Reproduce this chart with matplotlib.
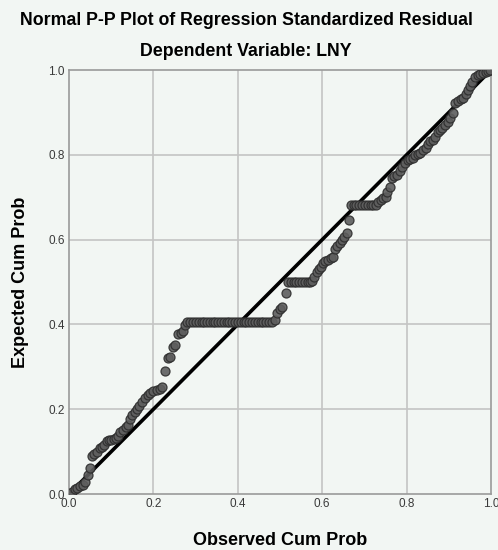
import numpy as np
import matplotlib.pyplot as plt

# Observed / expected cumulative probabilities
observed = [
    0.007, 0.014, 0.020, 0.026, 0.033, 0.038, 0.045, 0.050, 0.055, 0.060,
    0.066, 0.073, 0.078, 0.083, 0.090, 0.095, 0.100, 0.106, 0.112, 0.117,
    0.121, 0.128, 0.134, 0.140, 0.145, 0.149, 0.156, 0.162, 0.166, 0.173,
    0.180, 0.187, 0.193, 0.200, 0.208, 0.215, 0.220, 0.227, 0.235, 0.240,
    0.246, 0.252, 0.258, 0.265, 0.270, 0.275,
    # flat run near 0.406
    0.280, 0.287, 0.294, 0.300, 0.307, 0.314, 0.320, 0.327, 0.334, 0.340,
    0.347, 0.354, 0.360, 0.367, 0.374, 0.380, 0.387, 0.394, 0.400, 0.407,
    0.414, 0.420, 0.427, 0.434, 0.440, 0.447, 0.454, 0.460, 0.467, 0.474,
    0.480,
    0.487, 0.493, 0.500, 0.505, 0.514,
    # flat run near 0.5
    0.519, 0.526, 0.532, 0.539, 0.546, 0.552, 0.559, 0.566, 0.572, 0.576,
    0.580, 0.587, 0.592, 0.597, 0.602, 0.607, 0.613, 0.620, 0.625, 0.630,
    0.636, 0.641, 0.647, 0.652, 0.658, 0.664,
    # flat run near 0.682
    0.668, 0.675, 0.681, 0.688, 0.695, 0.701, 0.708, 0.715, 0.721, 0.728,
    0.733, 0.739, 0.745, 0.750, 0.754, 0.761, 0.766, 0.771, 0.778, 0.784,
    0.789, 0.796, 0.803, 0.809, 0.815, 0.820, 0.826, 0.832, 0.839, 0.845,
    0.850, 0.856, 0.862, 0.868, 0.874, 0.879, 0.884, 0.891, 0.897, 0.903,
    0.909, 0.915, 0.921, 0.928, 0.934, 0.940, 0.945, 0.950, 0.955, 0.962,
    0.969, 0.975, 0.981, 0.987, 0.993, 0.998,
]
expected = [
    0.004, 0.012, 0.015, 0.018, 0.022, 0.028, 0.045, 0.062, 0.090, 0.094,
    0.099, 0.108, 0.112, 0.116, 0.125, 0.127, 0.128, 0.130, 0.132, 0.136,
    0.146, 0.152, 0.157, 0.163, 0.176, 0.186, 0.193, 0.200, 0.207, 0.217,
    0.226, 0.233, 0.238, 0.243, 0.245, 0.248, 0.252, 0.290, 0.320, 0.323,
    0.347, 0.352, 0.377, 0.380, 0.385, 0.399,
    0.406, 0.406, 0.406, 0.406, 0.406, 0.406, 0.406, 0.406, 0.406, 0.406,
    0.406, 0.406, 0.406, 0.406, 0.406, 0.406, 0.406, 0.406, 0.406, 0.406,
    0.406, 0.406, 0.406, 0.406, 0.406, 0.406, 0.406, 0.406, 0.406, 0.406,
    0.406,
    0.410, 0.427, 0.437, 0.440, 0.474,
    0.500, 0.500, 0.500, 0.500, 0.500, 0.500, 0.500, 0.500, 0.500, 0.503,
    0.512, 0.524, 0.530, 0.535, 0.545, 0.550, 0.553, 0.557, 0.560, 0.578,
    0.585, 0.592, 0.599, 0.606, 0.616, 0.646,
    0.682, 0.682, 0.682, 0.682, 0.682, 0.682, 0.682, 0.682, 0.682, 0.682,
    0.688, 0.694, 0.697, 0.700, 0.712, 0.724, 0.745, 0.750, 0.753, 0.762,
    0.771, 0.780, 0.787, 0.790, 0.793, 0.800, 0.802, 0.804, 0.811, 0.816,
    0.826, 0.832, 0.836, 0.842, 0.854, 0.858, 0.863, 0.870, 0.877, 0.887,
    0.899, 0.922, 0.928, 0.931, 0.934, 0.944, 0.953, 0.962, 0.972, 0.983,
    0.988, 0.991, 0.994, 0.996, 0.998, 1.000,
]
ticks = [0.0, 0.2, 0.4, 0.6, 0.8, 1.0]
tick_labels = ['0.0', '0.2', '0.4', '0.6', '0.8', '1.0']

plt.rcParams['font.family'] = ['Liberation Sans', 'DejaVu Sans']

bg = '#f2f6f3'
fig = plt.figure(figsize=(4.98, 5.5), dpi=100, facecolor=bg)
ax = fig.add_axes([0.1386, 0.1018, 0.8474, 0.7709], facecolor=bg)

# grid
for t in ticks[1:-1]:
    ax.axvline(t, color='#c4c4c4', lw=1.2, zorder=1)
    ax.axhline(t, color='#c4c4c4', lw=1.2, zorder=1)

# reference line
ax.plot([0, 1], [0, 1], color='black', lw=2.6, zorder=2, solid_capstyle='butt')

# points
ax.scatter(observed, expected, s=42, facecolor='#5e5e5e', edgecolor='#2e2e2e',
           linewidths=0.9, alpha=0.9, zorder=3)

ax.set_xlim(0, 1)
ax.set_ylim(0, 1)
ax.set_xticks(ticks)
ax.set_yticks(ticks)
ax.set_xticklabels(tick_labels)
ax.set_yticklabels(tick_labels)
ax.tick_params(length=0, labelsize=8.5, colors='#3a3a3a', pad=3)
for s in ax.spines.values():
    s.set_color('#9a9a9a')
    s.set_linewidth(1.2)

ax.set_xlabel('Observed Cum Prob', fontsize=13, fontweight='bold', labelpad=16)
ax.set_ylabel('Expected Cum Prob', fontsize=13, fontweight='bold', labelpad=14)

fig.text(0.495, 0.9636, 'Normal P-P Plot of Regression Standardized Residual',
         ha='center', va='center', fontsize=12.8, fontweight='bold')
fig.text(0.494, 0.9055, 'Dependent Variable: LNY', ha='center', va='center',
         fontsize=12.8, fontweight='bold')

fig.savefig('out.png', dpi=100, facecolor=bg)
